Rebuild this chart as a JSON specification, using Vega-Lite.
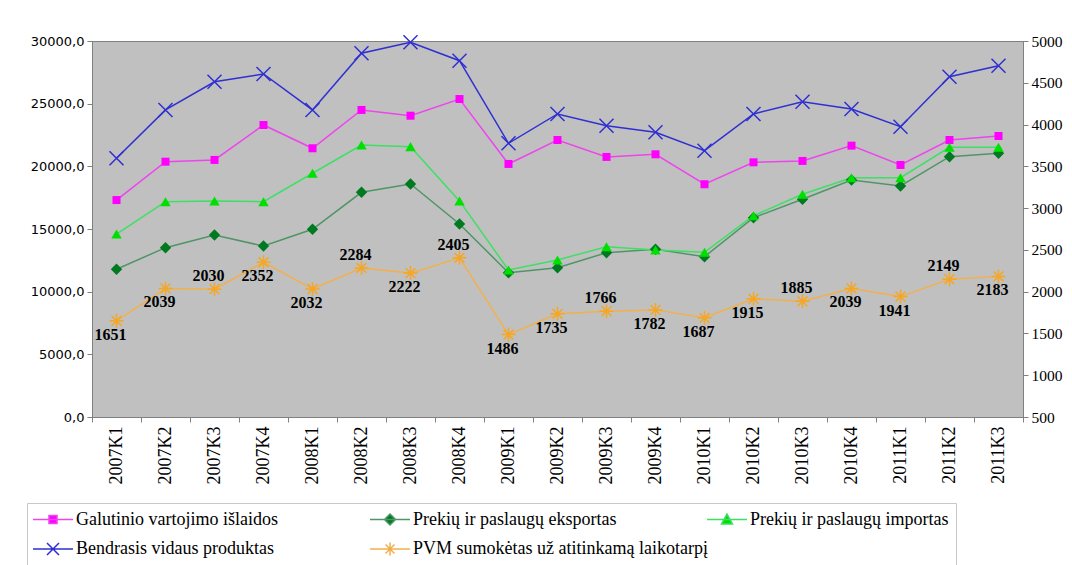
{
  "$schema": "https://vega.github.io/schema/vega-lite/v6.json",
  "autosize": {"type": "none"},
  "padding": {"left": 92, "top": 41, "right": 49, "bottom": 148},
  "width": 931,
  "height": 376,
  "background": "white",
  "config": {
    "view": {"fill": "#C0C0C0", "stroke": "#808080", "strokeWidth": 1},
    "axis": {"grid": false, "domainColor": "#808080", "tickColor": "#808080", "tickSize": 5, "labelColor": "#000000", "title": null},
    "legend": {"labelFont": "Liberation Serif", "labelFontSize": 18, "labelColor": "#000000", "labelLimit": 400}
  },
  "data": {"values": [
    {"ketvirtis":"2007K1","rodiklis":"Galutinio vartojimo išlaidos","reiksme":17310},
    {"ketvirtis":"2007K2","rodiklis":"Galutinio vartojimo išlaidos","reiksme":20370},
    {"ketvirtis":"2007K3","rodiklis":"Galutinio vartojimo išlaidos","reiksme":20510},
    {"ketvirtis":"2007K4","rodiklis":"Galutinio vartojimo išlaidos","reiksme":23300},
    {"ketvirtis":"2008K1","rodiklis":"Galutinio vartojimo išlaidos","reiksme":21440},
    {"ketvirtis":"2008K2","rodiklis":"Galutinio vartojimo išlaidos","reiksme":24500},
    {"ketvirtis":"2008K3","rodiklis":"Galutinio vartojimo išlaidos","reiksme":24040},
    {"ketvirtis":"2008K4","rodiklis":"Galutinio vartojimo išlaidos","reiksme":25370},
    {"ketvirtis":"2009K1","rodiklis":"Galutinio vartojimo išlaidos","reiksme":20190},
    {"ketvirtis":"2009K2","rodiklis":"Galutinio vartojimo išlaidos","reiksme":22100},
    {"ketvirtis":"2009K3","rodiklis":"Galutinio vartojimo išlaidos","reiksme":20750},
    {"ketvirtis":"2009K4","rodiklis":"Galutinio vartojimo išlaidos","reiksme":20960},
    {"ketvirtis":"2010K1","rodiklis":"Galutinio vartojimo išlaidos","reiksme":18570},
    {"ketvirtis":"2010K2","rodiklis":"Galutinio vartojimo išlaidos","reiksme":20320},
    {"ketvirtis":"2010K3","rodiklis":"Galutinio vartojimo išlaidos","reiksme":20430},
    {"ketvirtis":"2010K4","rodiklis":"Galutinio vartojimo išlaidos","reiksme":21650},
    {"ketvirtis":"2011K1","rodiklis":"Galutinio vartojimo išlaidos","reiksme":20110},
    {"ketvirtis":"2011K2","rodiklis":"Galutinio vartojimo išlaidos","reiksme":22100},
    {"ketvirtis":"2011K3","rodiklis":"Galutinio vartojimo išlaidos","reiksme":22420},
    {"ketvirtis":"2007K1","rodiklis":"Prekių ir paslaugų eksportas","reiksme":11790},
    {"ketvirtis":"2007K2","rodiklis":"Prekių ir paslaugų eksportas","reiksme":13510},
    {"ketvirtis":"2007K3","rodiklis":"Prekių ir paslaugų eksportas","reiksme":14520},
    {"ketvirtis":"2007K4","rodiklis":"Prekių ir paslaugų eksportas","reiksme":13640},
    {"ketvirtis":"2008K1","rodiklis":"Prekių ir paslaugų eksportas","reiksme":14980},
    {"ketvirtis":"2008K2","rodiklis":"Prekių ir paslaugų eksportas","reiksme":17930},
    {"ketvirtis":"2008K3","rodiklis":"Prekių ir paslaugų eksportas","reiksme":18590},
    {"ketvirtis":"2008K4","rodiklis":"Prekių ir paslaugų eksportas","reiksme":15400},
    {"ketvirtis":"2009K1","rodiklis":"Prekių ir paslaugų eksportas","reiksme":11510},
    {"ketvirtis":"2009K2","rodiklis":"Prekių ir paslaugų eksportas","reiksme":11910},
    {"ketvirtis":"2009K3","rodiklis":"Prekių ir paslaugų eksportas","reiksme":13110},
    {"ketvirtis":"2009K4","rodiklis":"Prekių ir paslaugų eksportas","reiksme":13380},
    {"ketvirtis":"2010K1","rodiklis":"Prekių ir paslaugų eksportas","reiksme":12790},
    {"ketvirtis":"2010K2","rodiklis":"Prekių ir paslaugų eksportas","reiksme":15900},
    {"ketvirtis":"2010K3","rodiklis":"Prekių ir paslaugų eksportas","reiksme":17370},
    {"ketvirtis":"2010K4","rodiklis":"Prekių ir paslaugų eksportas","reiksme":18910},
    {"ketvirtis":"2011K1","rodiklis":"Prekių ir paslaugų eksportas","reiksme":18430},
    {"ketvirtis":"2011K2","rodiklis":"Prekių ir paslaugų eksportas","reiksme":20770},
    {"ketvirtis":"2011K3","rodiklis":"Prekių ir paslaugų eksportas","reiksme":21040},
    {"ketvirtis":"2007K1","rodiklis":"Prekių ir paslaugų importas","reiksme":14600},
    {"ketvirtis":"2007K2","rodiklis":"Prekių ir paslaugų importas","reiksme":17180},
    {"ketvirtis":"2007K3","rodiklis":"Prekių ir paslaugų importas","reiksme":17240},
    {"ketvirtis":"2007K4","rodiklis":"Prekių ir paslaugų importas","reiksme":17180},
    {"ketvirtis":"2008K1","rodiklis":"Prekių ir paslaugų importas","reiksme":19450},
    {"ketvirtis":"2008K2","rodiklis":"Prekių ir paslaugų importas","reiksme":21700},
    {"ketvirtis":"2008K3","rodiklis":"Prekių ir paslaugų importas","reiksme":21570},
    {"ketvirtis":"2008K4","rodiklis":"Prekių ir paslaugų importas","reiksme":17240},
    {"ketvirtis":"2009K1","rodiklis":"Prekių ir paslaugų importas","reiksme":11730},
    {"ketvirtis":"2009K2","rodiklis":"Prekių ir paslaugų importas","reiksme":12530},
    {"ketvirtis":"2009K3","rodiklis":"Prekių ir paslaugų importas","reiksme":13590},
    {"ketvirtis":"2009K4","rodiklis":"Prekių ir paslaugų importas","reiksme":13330},
    {"ketvirtis":"2010K1","rodiklis":"Prekių ir paslaugų importas","reiksme":13140},
    {"ketvirtis":"2010K2","rodiklis":"Prekių ir paslaugų importas","reiksme":16060},
    {"ketvirtis":"2010K3","rodiklis":"Prekių ir paslaugų importas","reiksme":17770},
    {"ketvirtis":"2010K4","rodiklis":"Prekių ir paslaugų importas","reiksme":19090},
    {"ketvirtis":"2011K1","rodiklis":"Prekių ir paslaugų importas","reiksme":19090},
    {"ketvirtis":"2011K2","rodiklis":"Prekių ir paslaugų importas","reiksme":21520},
    {"ketvirtis":"2011K3","rodiklis":"Prekių ir paslaugų importas","reiksme":21520},
    {"ketvirtis":"2007K1","rodiklis":"Bendrasis vidaus produktas","reiksme":20640},
    {"ketvirtis":"2007K2","rodiklis":"Bendrasis vidaus produktas","reiksme":24500},
    {"ketvirtis":"2007K3","rodiklis":"Bendrasis vidaus produktas","reiksme":26750},
    {"ketvirtis":"2007K4","rodiklis":"Bendrasis vidaus produktas","reiksme":27370},
    {"ketvirtis":"2008K1","rodiklis":"Bendrasis vidaus produktas","reiksme":24500},
    {"ketvirtis":"2008K2","rodiklis":"Bendrasis vidaus produktas","reiksme":29020},
    {"ketvirtis":"2008K3","rodiklis":"Bendrasis vidaus produktas","reiksme":29900},
    {"ketvirtis":"2008K4","rodiklis":"Bendrasis vidaus produktas","reiksme":28430},
    {"ketvirtis":"2009K1","rodiklis":"Bendrasis vidaus produktas","reiksme":21840},
    {"ketvirtis":"2009K2","rodiklis":"Bendrasis vidaus produktas","reiksme":24180},
    {"ketvirtis":"2009K3","rodiklis":"Bendrasis vidaus produktas","reiksme":23240},
    {"ketvirtis":"2009K4","rodiklis":"Bendrasis vidaus produktas","reiksme":22720},
    {"ketvirtis":"2010K1","rodiklis":"Bendrasis vidaus produktas","reiksme":21250},
    {"ketvirtis":"2010K2","rodiklis":"Bendrasis vidaus produktas","reiksme":24180},
    {"ketvirtis":"2010K3","rodiklis":"Bendrasis vidaus produktas","reiksme":25160},
    {"ketvirtis":"2010K4","rodiklis":"Bendrasis vidaus produktas","reiksme":24580},
    {"ketvirtis":"2011K1","rodiklis":"Bendrasis vidaus produktas","reiksme":23160},
    {"ketvirtis":"2011K2","rodiklis":"Bendrasis vidaus produktas","reiksme":27150},
    {"ketvirtis":"2011K3","rodiklis":"Bendrasis vidaus produktas","reiksme":28030},
    {"ketvirtis":"2007K1","rodiklis":"PVM sumokėtas už atitinkamą laikotarpį","reiksme":1651},
    {"ketvirtis":"2007K2","rodiklis":"PVM sumokėtas už atitinkamą laikotarpį","reiksme":2039},
    {"ketvirtis":"2007K3","rodiklis":"PVM sumokėtas už atitinkamą laikotarpį","reiksme":2030},
    {"ketvirtis":"2007K4","rodiklis":"PVM sumokėtas už atitinkamą laikotarpį","reiksme":2352},
    {"ketvirtis":"2008K1","rodiklis":"PVM sumokėtas už atitinkamą laikotarpį","reiksme":2032},
    {"ketvirtis":"2008K2","rodiklis":"PVM sumokėtas už atitinkamą laikotarpį","reiksme":2284},
    {"ketvirtis":"2008K3","rodiklis":"PVM sumokėtas už atitinkamą laikotarpį","reiksme":2222},
    {"ketvirtis":"2008K4","rodiklis":"PVM sumokėtas už atitinkamą laikotarpį","reiksme":2405},
    {"ketvirtis":"2009K1","rodiklis":"PVM sumokėtas už atitinkamą laikotarpį","reiksme":1486},
    {"ketvirtis":"2009K2","rodiklis":"PVM sumokėtas už atitinkamą laikotarpį","reiksme":1735},
    {"ketvirtis":"2009K3","rodiklis":"PVM sumokėtas už atitinkamą laikotarpį","reiksme":1766},
    {"ketvirtis":"2009K4","rodiklis":"PVM sumokėtas už atitinkamą laikotarpį","reiksme":1782},
    {"ketvirtis":"2010K1","rodiklis":"PVM sumokėtas už atitinkamą laikotarpį","reiksme":1687},
    {"ketvirtis":"2010K2","rodiklis":"PVM sumokėtas už atitinkamą laikotarpį","reiksme":1915},
    {"ketvirtis":"2010K3","rodiklis":"PVM sumokėtas už atitinkamą laikotarpį","reiksme":1885},
    {"ketvirtis":"2010K4","rodiklis":"PVM sumokėtas už atitinkamą laikotarpį","reiksme":2039},
    {"ketvirtis":"2011K1","rodiklis":"PVM sumokėtas už atitinkamą laikotarpį","reiksme":1941},
    {"ketvirtis":"2011K2","rodiklis":"PVM sumokėtas už atitinkamą laikotarpį","reiksme":2149},
    {"ketvirtis":"2011K3","rodiklis":"PVM sumokėtas už atitinkamą laikotarpį","reiksme":2183}
  ]},
  "encoding": {
    "x": {
      "field": "ketvirtis", "type": "ordinal", "sort": null,
      "scale": {"type": "band", "paddingInner": 0, "paddingOuter": 0},
      "axis": {"labelAngle": 270, "labelFont": "Liberation Serif", "labelFontSize": 18, "tickBand": "extent", "labelPadding": 4}
    }
  },
  "layer": [
    {
      "transform": [{"filter": "datum.rodiklis !== 'PVM sumokėtas už atitinkamą laikotarpį'"}],
      "encoding": {
        "y": {
          "field": "reiksme", "type": "quantitative",
          "scale": {"domain": [0, 30000], "nice": false, "zero": false},
          "axis": {"orient": "left", "values": [0, 5000, 10000, 15000, 20000, 25000, 30000], "labelExpr": "replace(format(datum.value, '.1f'), '.', ',')", "labelFont": "DejaVu Sans", "labelFontSize": 13, "labelPadding": 3}
        }
      },
      "layer": [
        {
          "mark": {"type": "line", "strokeWidth": 1.5},
          "encoding": {
            "color": {
              "field": "rodiklis", "type": "nominal",
              "scale": {
                "domain": ["Galutinio vartojimo išlaidos", "Prekių ir paslaugų eksportas", "Prekių ir paslaugų importas", "Bendrasis vidaus produktas", "PVM sumokėtas už atitinkamą laikotarpį"],
                "range": ["#EE44EE", "#4F9567", "#3DE063", "#2F2FD2", "#F2B04C"]
              },
              "legend": {
                "title": null, "orient": "none", "legendX": -65, "legendY": 462,
                "columns": 3, "direction": "horizontal", "gridAlign": "all", "columnPadding": -4, "rowPadding": 10,
                "padding": 7, "strokeColor": "#C8C8C8", "fillColor": "#FFFFFF",
                "labelFont": "Liberation Serif", "labelFontSize": 18, "labelColor": "#000000", "labelLimit": 400,
                "symbolSize": 100, "symbolOffset": 10, "labelOffset": 14, "symbolStrokeWidth": 1.5,
                "encode": {
                  "symbols": {
                    "update": {
                      "shape": {"signal": "datum.value === 'Galutinio vartojimo išlaidos' ? 'M-4,0L4,0M-0.8,-0.8L0.8,-0.8L0.8,0.8L-0.8,0.8Z' : datum.value === 'Prekių ir paslaugų eksportas' ? 'M-4,0L4,0M0,-1.1L1.1,0L0,1.1L-1.1,0Z' : datum.value === 'Prekių ir paslaugų importas' ? 'M-4,0L4,0M0,-1.1L1.1,0.9L-1.1,0.9Z' : datum.value === 'Bendrasis vidaus produktas' ? 'M-4,0L4,0M-1.2,-1.2L1.2,1.2M-1.2,1.2L1.2,-1.2' : 'M-4,0L4,0M-1.3,0L1.3,0M0,-1.3L0,1.3M-0.9,-0.9L0.9,0.9M-0.9,0.9L0.9,-0.9'"},
                      "fill": {"signal": "datum.value === 'Galutinio vartojimo išlaidos' ? '#FF00FF' : datum.value === 'Prekių ir paslaugų eksportas' ? '#007A20' : datum.value === 'Prekių ir paslaugų importas' ? '#00E000' : 'transparent'"},
                      "fillOpacity": {"value": 1},
                      "opacity": {"value": 1},
                      "strokeWidth": {"value": 1.5}
                    }
                  }
                }
              }
            }
          }
        },
        {
          "transform": [{"filter": {"field": "rodiklis", "oneOf": ["Galutinio vartojimo išlaidos", "Prekių ir paslaugų eksportas", "Prekių ir paslaugų importas"]}}],
          "mark": {"type": "point", "filled": true, "opacity": 1},
          "encoding": {
            "fill": {
              "field": "rodiklis", "type": "nominal", "legend": null,
              "scale": {"domain": ["Galutinio vartojimo išlaidos", "Prekių ir paslaugų eksportas", "Prekių ir paslaugų importas"], "range": ["#FF00FF", "#007A20", "#00E000"]}
            },
            "shape": {
              "field": "rodiklis", "type": "nominal", "legend": null,
              "scale": {"domain": ["Galutinio vartojimo išlaidos", "Prekių ir paslaugų eksportas", "Prekių ir paslaugų importas"], "range": ["square", "diamond", "triangle-up"]}
            },
            "size": {
              "field": "rodiklis", "type": "nominal", "legend": null,
              "scale": {"type": "ordinal", "domain": ["Galutinio vartojimo išlaidos", "Prekių ir paslaugų eksportas", "Prekių ir paslaugų importas"], "range": [64, 130, 110]}
            }
          }
        },
        {
          "transform": [{"filter": "datum.rodiklis === 'Bendrasis vidaus produktas'"}],
          "mark": {"type": "point", "shape": "M-1,-1L1,1M-1,1L1,-1", "size": 196, "filled": false, "stroke": "#2F2FD2", "strokeWidth": 1.5, "opacity": 1},
          "encoding": {}
        }
      ]
    },
    {
      "transform": [{"filter": "datum.rodiklis === 'PVM sumokėtas už atitinkamą laikotarpį'"}],
      "encoding": {
        "y": {
          "field": "reiksme", "type": "quantitative",
          "scale": {"domain": [500, 5000], "nice": false, "zero": false},
          "axis": {"orient": "right", "values": [500, 1000, 1500, 2000, 2500, 3000, 3500, 4000, 4500, 5000], "format": "d", "labelFont": "Liberation Serif", "labelFontSize": 15.5, "labelPadding": 3}
        }
      },
      "layer": [
        {
          "mark": {"type": "line", "strokeWidth": 1.5},
          "encoding": {"color": {"field": "rodiklis", "type": "nominal"}}
        },
        {
          "mark": {"type": "point", "shape": "M-1,0L1,0M0,-1L0,1M-0.7,-0.7L0.7,0.7M-0.7,0.7L0.7,-0.7", "size": 196, "filled": false, "stroke": "#F5A623", "strokeWidth": 1.5, "opacity": 1},
          "encoding": {}
        },
        {
          "transform": [{"filter": {"field": "ketvirtis", "oneOf": ["2007K3", "2008K2", "2008K4", "2009K3", "2010K3", "2011K2"]}}],
          "mark": {"type": "text", "font": "Liberation Serif", "fontSize": 16, "fontWeight": "bold", "color": "#000000", "dx": -6, "dy": -13, "baseline": "middle"},
          "encoding": {"text": {"field": "reiksme", "type": "quantitative", "format": "d"}}
        },
        {
          "transform": [{"filter": {"not": {"field": "ketvirtis", "oneOf": ["2007K3", "2008K2", "2008K4", "2009K3", "2010K3", "2011K2"]}}}],
          "mark": {"type": "text", "font": "Liberation Serif", "fontSize": 16, "fontWeight": "bold", "color": "#000000", "dx": -6, "dy": 14, "baseline": "middle"},
          "encoding": {"text": {"field": "reiksme", "type": "quantitative", "format": "d"}}
        }
      ]
    }
  ],
  "resolve": {"scale": {"y": "independent"}}
}
